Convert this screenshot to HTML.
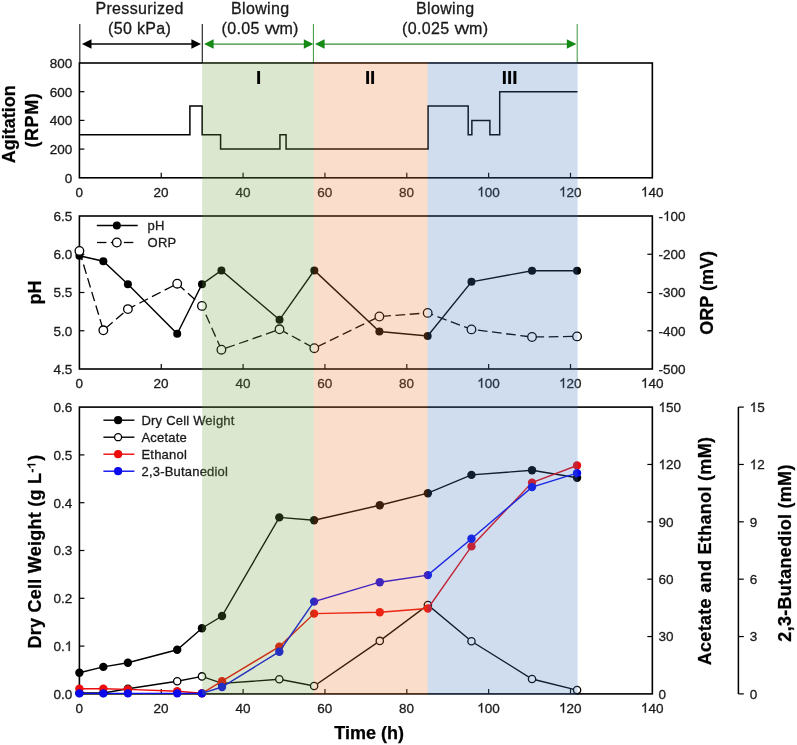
<!DOCTYPE html>
<html><head><meta charset="utf-8"><style>
html,body{margin:0;padding:0;background:#fff;}
svg{display:block;will-change:transform;}
text{font-family:"Liberation Sans", sans-serif;fill:#1a1a1a;}
.tk{font-size:13.5px;stroke:#1a1a1a;stroke-width:0.3px;}
.hid{fill:none;stroke:none;}
.hd{font-size:16px;letter-spacing:0.35px;stroke:#1a1a1a;stroke-width:0.3px;}
.lg{font-size:13px;letter-spacing:0.2px;stroke:#1a1a1a;stroke-width:0.3px;}
.ax{font-size:18px;font-weight:bold;fill:#000;stroke:#000;stroke-width:0.25px;}
.rn{font-size:18.8px;font-weight:bold;fill:#000;stroke:#000;stroke-width:0.2px;}
</style></head><body>
<svg width="797" height="745" viewBox="0 0 797 745">
<rect width="797" height="745" fill="#fff"/>
<line x1="79.8" y1="24" x2="79.8" y2="63" stroke="#222" stroke-width="1.15"/>
<line x1="202.3" y1="24" x2="202.3" y2="63" stroke="#222" stroke-width="1.15"/>
<line x1="313.4" y1="24" x2="313.4" y2="63" stroke="#3f963f" stroke-width="1.0"/>
<line x1="577.2" y1="24" x2="577.2" y2="63" stroke="#3f963f" stroke-width="1.0"/>
<line x1="89.9" y1="44.0" x2="193.0" y2="44.0" stroke="#000" stroke-width="1.4"/>
<polygon points="81.9,44.0 91.5,39.3 91.5,48.7" fill="#000"/>
<polygon points="201.0,44.0 191.4,39.3 191.4,48.7" fill="#000"/>
<line x1="212.0" y1="44.0" x2="305.4" y2="44.0" stroke="#358c35" stroke-width="1.25"/>
<polygon points="204.0,44.0 213.6,39.3 213.6,48.7" fill="#168a16"/>
<polygon points="313.4,44.0 303.79999999999995,39.3 303.79999999999995,48.7" fill="#168a16"/>
<line x1="323.0" y1="44.0" x2="568.4" y2="44.0" stroke="#358c35" stroke-width="1.25"/>
<polygon points="315.0,44.0 324.6,39.3 324.6,48.7" fill="#168a16"/>
<polygon points="576.4,44.0 566.8,39.3 566.8,48.7" fill="#168a16"/>
<text x="139.6" y="13.6" text-anchor="middle" class="hd">Pressurized</text>
<text x="139.6" y="34.2" text-anchor="middle" class="hd">(50 kPa)</text>
<text x="260.2" y="13.6" text-anchor="middle" class="hd">Blowing</text>
<text x="260.2" y="34.2" text-anchor="middle" class="hd">(0.05 <tspan dx="0.2">v</tspan><tspan dx="-1.5">v</tspan><tspan dx="-0.6">m)</tspan></text>
<text x="445.2" y="13.6" text-anchor="middle" class="hd">Blowing</text>
<text x="445.2" y="34.2" text-anchor="middle" class="hd">(0.025 <tspan dx="0.2">v</tspan><tspan dx="-1.5">v</tspan><tspan dx="-0.6">m)</tspan></text>
<rect x="79.4" y="63.0" width="572.95" height="114.80000000000001" fill="none" stroke="#000" stroke-width="1.6"/>
<line x1="161.25" y1="177.8" x2="161.25" y2="172.8" stroke="#000" stroke-width="1.2"/>
<line x1="243.10000000000002" y1="177.8" x2="243.10000000000002" y2="172.8" stroke="#000" stroke-width="1.2"/>
<line x1="324.95000000000005" y1="177.8" x2="324.95000000000005" y2="172.8" stroke="#000" stroke-width="1.2"/>
<line x1="406.80000000000007" y1="177.8" x2="406.80000000000007" y2="172.8" stroke="#000" stroke-width="1.2"/>
<line x1="488.65" y1="177.8" x2="488.65" y2="172.8" stroke="#000" stroke-width="1.2"/>
<line x1="570.5" y1="177.8" x2="570.5" y2="172.8" stroke="#000" stroke-width="1.2"/>
<text x="79.2" y="196.5" text-anchor="middle" class="tk">0</text>
<text x="161.05" y="196.5" text-anchor="middle" class="tk">20</text>
<text x="242.90000000000003" y="196.5" text-anchor="middle" class="tk">40</text>
<text x="324.75000000000006" y="196.5" text-anchor="middle" class="tk">60</text>
<text x="406.6000000000001" y="196.5" text-anchor="middle" class="tk">80</text>
<text x="488.45" y="196.5" text-anchor="middle" class="tk"><tspan class="hid">1</tspan>00</text>
<path d="M763 0L583 0L583 1147Q430 1000 223 903L223 1077Q520 1230 646 1466L763 1466Z" transform="translate(477.188,196.5) scale(0.006592,-0.006592)" fill="#1a1a1a" stroke="#1a1a1a" stroke-width="45.5"/>
<text x="570.3" y="196.5" text-anchor="middle" class="tk"><tspan class="hid">1</tspan>20</text>
<path d="M763 0L583 0L583 1147Q430 1000 223 903L223 1077Q520 1230 646 1466L763 1466Z" transform="translate(559.038,196.5) scale(0.006592,-0.006592)" fill="#1a1a1a" stroke="#1a1a1a" stroke-width="45.5"/>
<text x="652.15" y="196.5" text-anchor="middle" class="tk"><tspan class="hid">1</tspan>40</text>
<path d="M763 0L583 0L583 1147Q430 1000 223 903L223 1077Q520 1230 646 1466L763 1466Z" transform="translate(640.888,196.5) scale(0.006592,-0.006592)" fill="#1a1a1a" stroke="#1a1a1a" stroke-width="45.5"/>
<text x="72.3" y="182.60000000000002" text-anchor="end" class="tk">0</text>
<line x1="79.4" y1="149.10000000000002" x2="84.4" y2="149.10000000000002" stroke="#000" stroke-width="1.2"/>
<text x="72.3" y="153.90000000000003" text-anchor="end" class="tk">200</text>
<line x1="79.4" y1="120.4" x2="84.4" y2="120.4" stroke="#000" stroke-width="1.2"/>
<text x="72.3" y="125.2" text-anchor="end" class="tk">400</text>
<line x1="79.4" y1="91.7" x2="84.4" y2="91.7" stroke="#000" stroke-width="1.2"/>
<text x="72.3" y="96.5" text-anchor="end" class="tk">600</text>
<text x="72.3" y="67.8" text-anchor="end" class="tk">800</text>
<polyline points="79.40,134.75 189.90,134.75 189.90,106.05 202.18,106.05 202.18,134.75 220.59,134.75 220.59,149.10 279.93,149.10 279.93,134.75 286.07,134.75 286.07,149.10 428.08,149.10 428.08,106.05 468.19,106.05 468.19,134.75 471.87,134.75 471.87,120.40 489.88,120.40 489.88,134.75 499.70,134.75 499.70,91.70 577.46,91.70" fill="none" stroke="#000" stroke-width="1.5" stroke-linejoin="miter"/>
<text transform="translate(15.2,124.3) rotate(-90)" text-anchor="middle" class="ax">Agitation</text>
<text transform="translate(37.8,120.1) rotate(-90)" text-anchor="middle" class="ax" letter-spacing="0.6">(RPM)</text>
<rect x="79.4" y="216.0" width="572.95" height="153.0" fill="none" stroke="#000" stroke-width="1.6"/>
<line x1="161.25" y1="369.0" x2="161.25" y2="364.0" stroke="#000" stroke-width="1.2"/>
<line x1="243.10000000000002" y1="369.0" x2="243.10000000000002" y2="364.0" stroke="#000" stroke-width="1.2"/>
<line x1="324.95000000000005" y1="369.0" x2="324.95000000000005" y2="364.0" stroke="#000" stroke-width="1.2"/>
<line x1="406.80000000000007" y1="369.0" x2="406.80000000000007" y2="364.0" stroke="#000" stroke-width="1.2"/>
<line x1="488.65" y1="369.0" x2="488.65" y2="364.0" stroke="#000" stroke-width="1.2"/>
<line x1="570.5" y1="369.0" x2="570.5" y2="364.0" stroke="#000" stroke-width="1.2"/>
<text x="79.2" y="387.7" text-anchor="middle" class="tk">0</text>
<text x="161.05" y="387.7" text-anchor="middle" class="tk">20</text>
<text x="242.90000000000003" y="387.7" text-anchor="middle" class="tk">40</text>
<text x="324.75000000000006" y="387.7" text-anchor="middle" class="tk">60</text>
<text x="406.6000000000001" y="387.7" text-anchor="middle" class="tk">80</text>
<text x="488.45" y="387.7" text-anchor="middle" class="tk"><tspan class="hid">1</tspan>00</text>
<path d="M763 0L583 0L583 1147Q430 1000 223 903L223 1077Q520 1230 646 1466L763 1466Z" transform="translate(477.188,387.7) scale(0.006592,-0.006592)" fill="#1a1a1a" stroke="#1a1a1a" stroke-width="45.5"/>
<text x="570.3" y="387.7" text-anchor="middle" class="tk"><tspan class="hid">1</tspan>20</text>
<path d="M763 0L583 0L583 1147Q430 1000 223 903L223 1077Q520 1230 646 1466L763 1466Z" transform="translate(559.038,387.7) scale(0.006592,-0.006592)" fill="#1a1a1a" stroke="#1a1a1a" stroke-width="45.5"/>
<text x="652.15" y="387.7" text-anchor="middle" class="tk"><tspan class="hid">1</tspan>40</text>
<path d="M763 0L583 0L583 1147Q430 1000 223 903L223 1077Q520 1230 646 1466L763 1466Z" transform="translate(640.888,387.7) scale(0.006592,-0.006592)" fill="#1a1a1a" stroke="#1a1a1a" stroke-width="45.5"/>
<text x="72.3" y="373.8" text-anchor="end" class="tk">4.5</text>
<line x1="79.4" y1="330.75" x2="84.4" y2="330.75" stroke="#000" stroke-width="1.2"/>
<text x="72.3" y="335.55" text-anchor="end" class="tk">5.0</text>
<line x1="79.4" y1="292.5" x2="84.4" y2="292.5" stroke="#000" stroke-width="1.2"/>
<text x="72.3" y="297.3" text-anchor="end" class="tk">5.5</text>
<line x1="79.4" y1="254.25" x2="84.4" y2="254.25" stroke="#000" stroke-width="1.2"/>
<text x="72.3" y="259.05" text-anchor="end" class="tk">6.0</text>
<text x="72.3" y="220.8" text-anchor="end" class="tk">6.5</text>
<text x="658.5" y="373.8" text-anchor="start" class="tk">-500</text>
<line x1="652.35" y1="330.75" x2="647.35" y2="330.75" stroke="#000" stroke-width="1.2"/>
<text x="658.5" y="335.55" text-anchor="start" class="tk">-400</text>
<line x1="652.35" y1="292.5" x2="647.35" y2="292.5" stroke="#000" stroke-width="1.2"/>
<text x="658.5" y="297.3" text-anchor="start" class="tk">-300</text>
<line x1="652.35" y1="254.25" x2="647.35" y2="254.25" stroke="#000" stroke-width="1.2"/>
<text x="658.5" y="259.05" text-anchor="start" class="tk">-200</text>
<text x="658.5" y="220.8" text-anchor="start" class="tk">-<tspan class="hid">1</tspan>00</text>
<path d="M763 0L583 0L583 1147Q430 1000 223 903L223 1077Q520 1230 646 1466L763 1466Z" transform="translate(662.996,220.8) scale(0.006592,-0.006592)" fill="#1a1a1a" stroke="#1a1a1a" stroke-width="45.5"/>
<polyline points="79.40,255.80 103.34,261.20 127.90,284.20 177.21,333.80 201.97,284.20 221.41,270.40 279.52,319.80 314.31,270.40 379.38,331.50 427.67,336.00 471.46,281.80 532.03,270.70 577.05,270.70" fill="none" stroke="#000" stroke-width="1.4" stroke-linejoin="miter"/>
<polyline points="79.40,250.90 103.34,330.30 127.90,309.10 177.21,283.70 201.97,305.90 221.41,349.70 279.52,329.30 314.31,348.20 379.38,316.50 427.67,312.90 471.46,329.40 532.03,337.00 577.05,336.40" fill="none" stroke="#000" stroke-width="1.3" stroke-dasharray="9.7 4.55" stroke-linejoin="miter"/>
<circle cx="79.40" cy="255.80" r="4.0" fill="#000"/>
<circle cx="103.34" cy="261.20" r="4.0" fill="#000"/>
<circle cx="127.90" cy="284.20" r="4.0" fill="#000"/>
<circle cx="177.21" cy="333.80" r="4.0" fill="#000"/>
<circle cx="201.97" cy="284.20" r="4.0" fill="#000"/>
<circle cx="221.41" cy="270.40" r="4.0" fill="#000"/>
<circle cx="279.52" cy="319.80" r="4.0" fill="#000"/>
<circle cx="314.31" cy="270.40" r="4.0" fill="#000"/>
<circle cx="379.38" cy="331.50" r="4.0" fill="#000"/>
<circle cx="427.67" cy="336.00" r="4.0" fill="#000"/>
<circle cx="471.46" cy="281.80" r="4.0" fill="#000"/>
<circle cx="532.03" cy="270.70" r="4.0" fill="#000"/>
<circle cx="577.05" cy="270.70" r="4.0" fill="#000"/>
<circle cx="79.40" cy="250.90" r="4.3" fill="#fff" stroke="#000" stroke-width="1.3"/>
<circle cx="103.34" cy="330.30" r="4.3" fill="#fff" stroke="#000" stroke-width="1.3"/>
<circle cx="127.90" cy="309.10" r="4.3" fill="#fff" stroke="#000" stroke-width="1.3"/>
<circle cx="177.21" cy="283.70" r="4.3" fill="#fff" stroke="#000" stroke-width="1.3"/>
<circle cx="201.97" cy="305.90" r="4.3" fill="#fff" stroke="#000" stroke-width="1.3"/>
<circle cx="221.41" cy="349.70" r="4.3" fill="#fff" stroke="#000" stroke-width="1.3"/>
<circle cx="279.52" cy="329.30" r="4.3" fill="#fff" stroke="#000" stroke-width="1.3"/>
<circle cx="314.31" cy="348.20" r="4.3" fill="#fff" stroke="#000" stroke-width="1.3"/>
<circle cx="379.38" cy="316.50" r="4.3" fill="#fff" stroke="#000" stroke-width="1.3"/>
<circle cx="427.67" cy="312.90" r="4.3" fill="#fff" stroke="#000" stroke-width="1.3"/>
<circle cx="471.46" cy="329.40" r="4.3" fill="#fff" stroke="#000" stroke-width="1.3"/>
<circle cx="532.03" cy="337.00" r="4.3" fill="#fff" stroke="#000" stroke-width="1.3"/>
<circle cx="577.05" cy="336.40" r="4.3" fill="#fff" stroke="#000" stroke-width="1.3"/>
<polyline points="96.80,225.50 137.70,225.50" fill="none" stroke="#000" stroke-width="1.4" stroke-linejoin="miter"/>
<circle cx="116.80" cy="225.50" r="4.0" fill="#000"/>
<polyline points="97.00,242.50 106.40,242.50" fill="none" stroke="#000" stroke-width="1.3" stroke-linejoin="miter"/>
<polyline points="110.80,242.50 120.40,242.50" fill="none" stroke="#000" stroke-width="1.3" stroke-linejoin="miter"/>
<polyline points="123.80,242.50 133.30,242.50" fill="none" stroke="#000" stroke-width="1.3" stroke-linejoin="miter"/>
<circle cx="116.80" cy="242.50" r="4.3" fill="#fff" stroke="#000" stroke-width="1.3"/>
<text x="147.6" y="230.2" class="lg">pH</text>
<text x="147.6" y="247.2" class="lg">ORP</text>
<text transform="translate(40.8,292.5) rotate(-90)" text-anchor="middle" class="ax">pH</text>
<text transform="translate(713.2,292.8) rotate(-90)" text-anchor="middle" class="ax">ORP (mV)</text>
<rect x="79.4" y="407.1" width="572.95" height="286.79999999999995" fill="none" stroke="#000" stroke-width="1.6"/>
<line x1="161.25" y1="693.9" x2="161.25" y2="688.9" stroke="#000" stroke-width="1.2"/>
<line x1="243.10000000000002" y1="693.9" x2="243.10000000000002" y2="688.9" stroke="#000" stroke-width="1.2"/>
<line x1="324.95000000000005" y1="693.9" x2="324.95000000000005" y2="688.9" stroke="#000" stroke-width="1.2"/>
<line x1="406.80000000000007" y1="693.9" x2="406.80000000000007" y2="688.9" stroke="#000" stroke-width="1.2"/>
<line x1="488.65" y1="693.9" x2="488.65" y2="688.9" stroke="#000" stroke-width="1.2"/>
<line x1="570.5" y1="693.9" x2="570.5" y2="688.9" stroke="#000" stroke-width="1.2"/>
<text x="79.2" y="712.6" text-anchor="middle" class="tk">0</text>
<text x="161.05" y="712.6" text-anchor="middle" class="tk">20</text>
<text x="242.90000000000003" y="712.6" text-anchor="middle" class="tk">40</text>
<text x="324.75000000000006" y="712.6" text-anchor="middle" class="tk">60</text>
<text x="406.6000000000001" y="712.6" text-anchor="middle" class="tk">80</text>
<text x="488.45" y="712.6" text-anchor="middle" class="tk"><tspan class="hid">1</tspan>00</text>
<path d="M763 0L583 0L583 1147Q430 1000 223 903L223 1077Q520 1230 646 1466L763 1466Z" transform="translate(477.188,712.6) scale(0.006592,-0.006592)" fill="#1a1a1a" stroke="#1a1a1a" stroke-width="45.5"/>
<text x="570.3" y="712.6" text-anchor="middle" class="tk"><tspan class="hid">1</tspan>20</text>
<path d="M763 0L583 0L583 1147Q430 1000 223 903L223 1077Q520 1230 646 1466L763 1466Z" transform="translate(559.038,712.6) scale(0.006592,-0.006592)" fill="#1a1a1a" stroke="#1a1a1a" stroke-width="45.5"/>
<text x="652.15" y="712.6" text-anchor="middle" class="tk"><tspan class="hid">1</tspan>40</text>
<path d="M763 0L583 0L583 1147Q430 1000 223 903L223 1077Q520 1230 646 1466L763 1466Z" transform="translate(640.888,712.6) scale(0.006592,-0.006592)" fill="#1a1a1a" stroke="#1a1a1a" stroke-width="45.5"/>
<text x="72.3" y="698.6999999999999" text-anchor="end" class="tk">0.0</text>
<line x1="79.4" y1="646.1" x2="84.4" y2="646.1" stroke="#000" stroke-width="1.2"/>
<text x="72.3" y="650.9" text-anchor="end" class="tk">0.<tspan class="hid">1</tspan></text>
<path d="M763 0L583 0L583 1147Q430 1000 223 903L223 1077Q520 1230 646 1466L763 1466Z" transform="translate(64.792,650.9) scale(0.006592,-0.006592)" fill="#1a1a1a" stroke="#1a1a1a" stroke-width="45.5"/>
<line x1="79.4" y1="598.3" x2="84.4" y2="598.3" stroke="#000" stroke-width="1.2"/>
<text x="72.3" y="603.0999999999999" text-anchor="end" class="tk">0.2</text>
<line x1="79.4" y1="550.5" x2="84.4" y2="550.5" stroke="#000" stroke-width="1.2"/>
<text x="72.3" y="555.3" text-anchor="end" class="tk">0.3</text>
<line x1="79.4" y1="502.70000000000005" x2="84.4" y2="502.70000000000005" stroke="#000" stroke-width="1.2"/>
<text x="72.3" y="507.50000000000006" text-anchor="end" class="tk">0.4</text>
<line x1="79.4" y1="454.9" x2="84.4" y2="454.9" stroke="#000" stroke-width="1.2"/>
<text x="72.3" y="459.7" text-anchor="end" class="tk">0.5</text>
<text x="72.3" y="411.90000000000003" text-anchor="end" class="tk">0.6</text>
<text x="658.5" y="698.6999999999999" text-anchor="start" class="tk">0</text>
<line x1="652.35" y1="636.54" x2="647.35" y2="636.54" stroke="#000" stroke-width="1.2"/>
<text x="658.5" y="641.3399999999999" text-anchor="start" class="tk">30</text>
<line x1="652.35" y1="579.18" x2="647.35" y2="579.18" stroke="#000" stroke-width="1.2"/>
<text x="658.5" y="583.9799999999999" text-anchor="start" class="tk">60</text>
<line x1="652.35" y1="521.8199999999999" x2="647.35" y2="521.8199999999999" stroke="#000" stroke-width="1.2"/>
<text x="658.5" y="526.6199999999999" text-anchor="start" class="tk">90</text>
<line x1="652.35" y1="464.46000000000004" x2="647.35" y2="464.46000000000004" stroke="#000" stroke-width="1.2"/>
<text x="658.5" y="469.26000000000005" text-anchor="start" class="tk"><tspan class="hid">1</tspan>20</text>
<path d="M763 0L583 0L583 1147Q430 1000 223 903L223 1077Q520 1230 646 1466L763 1466Z" transform="translate(658.500,469.26000000000005) scale(0.006592,-0.006592)" fill="#1a1a1a" stroke="#1a1a1a" stroke-width="45.5"/>
<text x="658.5" y="411.90000000000003" text-anchor="start" class="tk"><tspan class="hid">1</tspan>50</text>
<path d="M763 0L583 0L583 1147Q430 1000 223 903L223 1077Q520 1230 646 1466L763 1466Z" transform="translate(658.500,411.90000000000003) scale(0.006592,-0.006592)" fill="#1a1a1a" stroke="#1a1a1a" stroke-width="45.5"/>
<line x1="738.4" y1="407.1" x2="738.4" y2="693.9" stroke="#000" stroke-width="1.5"/>
<line x1="738.4" y1="693.9" x2="743.8" y2="693.9" stroke="#000" stroke-width="1.2"/>
<text x="749.7" y="698.6999999999999" text-anchor="start" class="tk">0</text>
<line x1="738.4" y1="636.54" x2="743.8" y2="636.54" stroke="#000" stroke-width="1.2"/>
<text x="749.7" y="641.3399999999999" text-anchor="start" class="tk">3</text>
<line x1="738.4" y1="579.18" x2="743.8" y2="579.18" stroke="#000" stroke-width="1.2"/>
<text x="749.7" y="583.9799999999999" text-anchor="start" class="tk">6</text>
<line x1="738.4" y1="521.8199999999999" x2="743.8" y2="521.8199999999999" stroke="#000" stroke-width="1.2"/>
<text x="749.7" y="526.6199999999999" text-anchor="start" class="tk">9</text>
<line x1="738.4" y1="464.46000000000004" x2="743.8" y2="464.46000000000004" stroke="#000" stroke-width="1.2"/>
<text x="749.7" y="469.26000000000005" text-anchor="start" class="tk"><tspan class="hid">1</tspan>2</text>
<path d="M763 0L583 0L583 1147Q430 1000 223 903L223 1077Q520 1230 646 1466L763 1466Z" transform="translate(749.700,469.26000000000005) scale(0.006592,-0.006592)" fill="#1a1a1a" stroke="#1a1a1a" stroke-width="45.5"/>
<line x1="738.4" y1="407.1" x2="743.8" y2="407.1" stroke="#000" stroke-width="1.2"/>
<text x="749.7" y="411.90000000000003" text-anchor="start" class="tk"><tspan class="hid">1</tspan>5</text>
<path d="M763 0L583 0L583 1147Q430 1000 223 903L223 1077Q520 1230 646 1466L763 1466Z" transform="translate(749.700,411.90000000000003) scale(0.006592,-0.006592)" fill="#1a1a1a" stroke="#1a1a1a" stroke-width="45.5"/>
<polyline points="79.40,672.70 103.34,666.90 127.90,662.70 177.21,649.80 201.97,628.20 222.02,616.00 279.32,517.40 314.10,520.20 379.79,505.30 427.88,493.20 471.46,474.90 532.03,470.30 577.05,477.70" fill="none" stroke="#000" stroke-width="1.4" stroke-linejoin="miter"/>
<circle cx="79.40" cy="672.70" r="4.2" fill="#000"/>
<circle cx="103.34" cy="666.90" r="4.2" fill="#000"/>
<circle cx="127.90" cy="662.70" r="4.2" fill="#000"/>
<circle cx="177.21" cy="649.80" r="4.2" fill="#000"/>
<circle cx="201.97" cy="628.20" r="4.2" fill="#000"/>
<circle cx="222.02" cy="616.00" r="4.2" fill="#000"/>
<circle cx="279.32" cy="517.40" r="4.2" fill="#000"/>
<circle cx="314.10" cy="520.20" r="4.2" fill="#000"/>
<circle cx="379.79" cy="505.30" r="4.2" fill="#000"/>
<circle cx="427.88" cy="493.20" r="4.2" fill="#000"/>
<circle cx="471.46" cy="474.90" r="4.2" fill="#000"/>
<circle cx="532.03" cy="470.30" r="4.2" fill="#000"/>
<circle cx="577.05" cy="477.70" r="4.2" fill="#000"/>
<polyline points="79.40,693.00 103.34,693.00 127.90,688.70 177.21,681.30 201.97,676.40 222.02,683.40 279.32,679.30 314.10,686.00 379.79,640.90 427.88,605.00 471.46,641.30 532.03,679.00 577.05,690.10" fill="none" stroke="#000" stroke-width="1.4" stroke-linejoin="miter"/>
<circle cx="79.40" cy="693.00" r="3.65" fill="#fff" stroke="#000" stroke-width="1.35"/>
<circle cx="103.34" cy="693.00" r="3.65" fill="#fff" stroke="#000" stroke-width="1.35"/>
<circle cx="127.90" cy="688.70" r="3.65" fill="#fff" stroke="#000" stroke-width="1.35"/>
<circle cx="177.21" cy="681.30" r="3.65" fill="#fff" stroke="#000" stroke-width="1.35"/>
<circle cx="201.97" cy="676.40" r="3.65" fill="#fff" stroke="#000" stroke-width="1.35"/>
<circle cx="222.02" cy="683.40" r="3.65" fill="#fff" stroke="#000" stroke-width="1.35"/>
<circle cx="279.32" cy="679.30" r="3.65" fill="#fff" stroke="#000" stroke-width="1.35"/>
<circle cx="314.10" cy="686.00" r="3.65" fill="#fff" stroke="#000" stroke-width="1.35"/>
<circle cx="379.79" cy="640.90" r="3.65" fill="#fff" stroke="#000" stroke-width="1.35"/>
<circle cx="427.88" cy="605.00" r="3.65" fill="#fff" stroke="#000" stroke-width="1.35"/>
<circle cx="471.46" cy="641.30" r="3.65" fill="#fff" stroke="#000" stroke-width="1.35"/>
<circle cx="532.03" cy="679.00" r="3.65" fill="#fff" stroke="#000" stroke-width="1.35"/>
<circle cx="577.05" cy="690.10" r="3.65" fill="#fff" stroke="#000" stroke-width="1.35"/>
<polyline points="79.40,688.80 103.34,688.80 127.90,689.40 177.21,691.20 201.97,693.30 222.02,681.20 279.32,646.60 314.10,613.60 379.79,612.20 427.88,608.50 471.46,546.40 532.03,482.60 577.05,465.50" fill="none" stroke="#ec0a0a" stroke-width="1.4" stroke-linejoin="miter"/>
<circle cx="79.40" cy="688.80" r="4.2" fill="#ec0a0a"/>
<circle cx="103.34" cy="688.80" r="4.2" fill="#ec0a0a"/>
<circle cx="127.90" cy="689.40" r="4.2" fill="#ec0a0a"/>
<circle cx="177.21" cy="691.20" r="4.2" fill="#ec0a0a"/>
<circle cx="201.97" cy="693.30" r="4.2" fill="#ec0a0a"/>
<circle cx="222.02" cy="681.20" r="4.2" fill="#ec0a0a"/>
<circle cx="279.32" cy="646.60" r="4.2" fill="#ec0a0a"/>
<circle cx="314.10" cy="613.60" r="4.2" fill="#ec0a0a"/>
<circle cx="379.79" cy="612.20" r="4.2" fill="#ec0a0a"/>
<circle cx="427.88" cy="608.50" r="4.2" fill="#ec0a0a"/>
<circle cx="471.46" cy="546.40" r="4.2" fill="#ec0a0a"/>
<circle cx="532.03" cy="482.60" r="4.2" fill="#ec0a0a"/>
<circle cx="577.05" cy="465.50" r="4.2" fill="#ec0a0a"/>
<polyline points="79.40,693.40 103.34,693.40 127.90,693.40 177.21,693.40 201.97,693.40 222.02,687.00 279.32,651.70 314.10,601.60 379.79,582.20 427.88,575.10 471.46,538.70 532.03,487.10 577.05,473.10" fill="none" stroke="#0a0aec" stroke-width="1.4" stroke-linejoin="miter"/>
<circle cx="79.40" cy="693.40" r="4.2" fill="#0a0aec"/>
<circle cx="103.34" cy="693.40" r="4.2" fill="#0a0aec"/>
<circle cx="127.90" cy="693.40" r="4.2" fill="#0a0aec"/>
<circle cx="177.21" cy="693.40" r="4.2" fill="#0a0aec"/>
<circle cx="201.97" cy="693.40" r="4.2" fill="#0a0aec"/>
<circle cx="222.02" cy="687.00" r="4.2" fill="#0a0aec"/>
<circle cx="279.32" cy="651.70" r="4.2" fill="#0a0aec"/>
<circle cx="314.10" cy="601.60" r="4.2" fill="#0a0aec"/>
<circle cx="379.79" cy="582.20" r="4.2" fill="#0a0aec"/>
<circle cx="427.88" cy="575.10" r="4.2" fill="#0a0aec"/>
<circle cx="471.46" cy="538.70" r="4.2" fill="#0a0aec"/>
<circle cx="532.03" cy="487.10" r="4.2" fill="#0a0aec"/>
<circle cx="577.05" cy="473.10" r="4.2" fill="#0a0aec"/>
<polyline points="103.40,420.20 134.40,420.20" fill="none" stroke="#000" stroke-width="1.4" stroke-linejoin="miter"/>
<circle cx="118.10" cy="420.20" r="4.1" fill="#000"/>
<text x="141.5" y="424.5" class="lg">Dry Cell Weight</text>
<polyline points="103.40,437.20 134.40,437.20" fill="none" stroke="#000" stroke-width="1.4" stroke-linejoin="miter"/>
<circle cx="118.10" cy="437.20" r="3.5" fill="#fff" stroke="#000" stroke-width="1.3"/>
<text x="141.5" y="441.5" class="lg">Acetate</text>
<polyline points="103.40,454.20 134.40,454.20" fill="none" stroke="#ec0a0a" stroke-width="1.4" stroke-linejoin="miter"/>
<circle cx="118.10" cy="454.20" r="4.1" fill="#ec0a0a"/>
<text x="141.5" y="458.5" class="lg">Ethanol</text>
<polyline points="103.40,471.20 134.40,471.20" fill="none" stroke="#0a0aec" stroke-width="1.4" stroke-linejoin="miter"/>
<circle cx="118.10" cy="471.20" r="4.1" fill="#0a0aec"/>
<text x="141.5" y="475.5" class="lg">2,3-Butanediol</text>
<rect x="202.175" y="62.2" width="111.625" height="632.5" fill="rgb(111,159,59)" fill-opacity="0.25"/>
<rect x="313.8" y="62.2" width="114.0" height="632.5" fill="rgb(235,119,47)" fill-opacity="0.25"/>
<rect x="427.8" y="62.2" width="149.8" height="632.5" fill="rgb(67,119,191)" fill-opacity="0.25"/>
<text x="258.5" y="83.5" text-anchor="middle" class="rn">I</text>
<text x="370.1" y="83.5" text-anchor="middle" class="rn">II</text>
<text x="509.7" y="83.5" text-anchor="middle" class="rn">III</text>
<text x="369.2" y="739.2" text-anchor="middle" class="ax">Time (h)</text>
<text transform="translate(41,648.5) rotate(-90)" text-anchor="start" class="ax" letter-spacing="0.25">Dry Cell Weight (g L<tspan dx="0.4" dy="-5.6" font-size="11.5" letter-spacing="0.2">-<tspan class="hid">1</tspan></tspan><tspan dx="1.0" dy="5.6">)</tspan></text>
<path d="M800 0L580 0L580 1053Q400 900 100 810L100 1040Q300 1110 460 1240Q590 1350 640 1466L800 1466Z" transform="translate(41,648.5) rotate(-90) translate(180.103,-5.6) scale(0.005615,-0.005615)" fill="#000" stroke="#000" stroke-width="40"/>
<text transform="translate(711.3,551.0) rotate(-90)" text-anchor="middle" class="ax" letter-spacing="0.315">Acetate and Ethanol (mM)</text>
<text transform="translate(791.2,553) rotate(-90)" text-anchor="middle" class="ax" letter-spacing="0.28">2,3-Butanediol (mM)</text>
</svg></body></html>
